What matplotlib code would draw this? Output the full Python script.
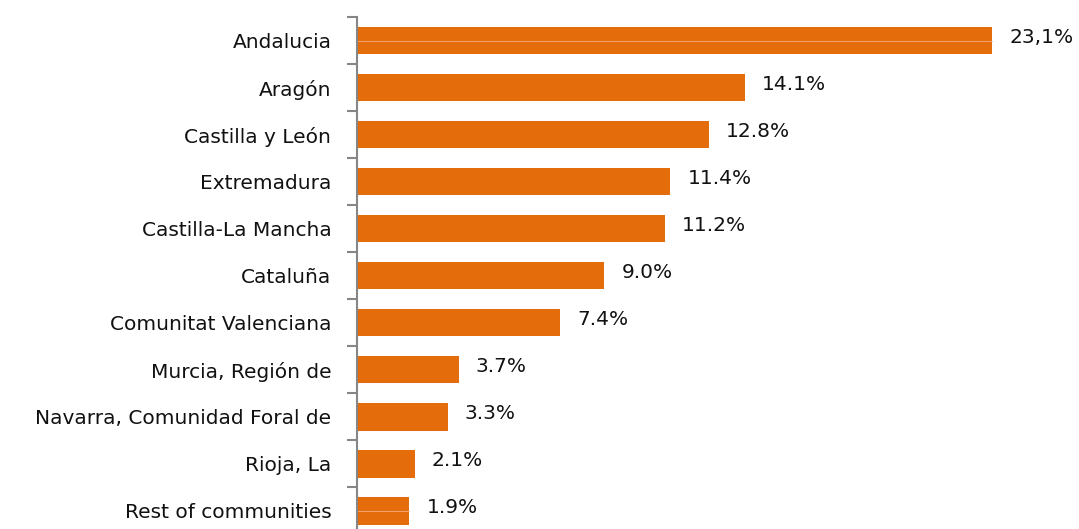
import matplotlib
matplotlib.use("Agg")
import matplotlib.pyplot as plt
import numpy as np

categories = ["Andalucia", "Aragón", "Castilla y León", "Extremadura",
              "Castilla-La Mancha", "Cataluña", "Comunitat Valenciana",
              "Murcia, Región de", "Navarra, Comunidad Foral de",
              "Rioja, La", "Rest of communities"]
values = [23.1, 14.1, 12.8, 11.4, 11.2, 9.0, 7.4, 3.7, 3.3, 2.1, 1.9]
value_labels = ["23,1%", "14.1%", "12.8%", "11.4%", "11.2%", "9.0%",
                "7.4%", "3.7%", "3.3%", "2.1%", "1.9%"]
# bars showing a faint light seam through the middle in the reference
seam_bars = ["Andalucia", "Rest of communities"]

plt.rcParams['font.family'] = ['DejaVu Sans']

fig = plt.figure(figsize=(10.79, 5.29), dpi=100)
ax = fig.add_axes([0.3309, -0.0104, 0.64, 0.9783])

y = np.arange(len(categories))
ax.barh(y, values, height=0.58, color="#E46C0A", edgecolor="none")
for name in seam_bars:
    i = categories.index(name)
    ax.hlines(i, 0, values[i], color="#F0A06A", linewidth=0.8)
ax.set_ylim(len(categories) - 0.5, -0.5)
ax.set_xlim(0, 25.12)

for yi, v, lab in zip(y, values, value_labels):
    ax.text(v + 0.62, yi - 0.07, lab, va="center", ha="left",
            fontsize=14.5, color="#111111")

ax.set_yticks(y)
ax.set_yticklabels(categories, fontsize=14.5, color="#111111")
ax.tick_params(axis="y", which="major", length=0, pad=18.5)
ax.set_yticks(np.arange(-0.5, len(categories), 1.0), minor=True)
ax.tick_params(axis="y", which="minor", length=7, width=1.5, color="#868686")

ax.set_xticks([])
for s in ["top", "right", "bottom"]:
    ax.spines[s].set_visible(False)
ax.spines["left"].set_color("#868686")
ax.spines["left"].set_linewidth(1.5)

fig.savefig("out.png", dpi=100)
